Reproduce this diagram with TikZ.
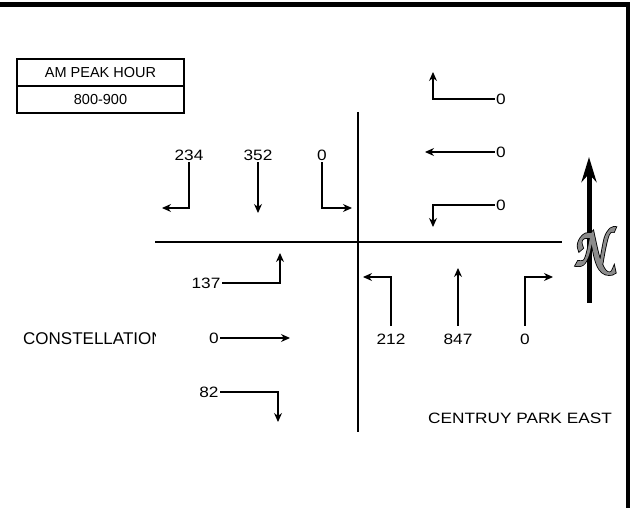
\documentclass[tikz,border=0pt]{standalone}
\usepackage{fontspec}
\setmainfont{Liberation Sans}
\newfontfamily\numfont[FakeStretch=1.15]{Liberation Sans}
\newfontfamily\northrimfont[FakeBold=5,FakeStretch=0.8]{texgyrechorus-mediumitalic.otf}
\newfontfamily\northfillfont[FakeBold=2,FakeStretch=0.8]{texgyrechorus-mediumitalic.otf}
\usetikzlibrary{arrows.meta,positioning}
\tikzset{
  street/.style={draw=black,line width=1.8pt},
  frame/.style={draw=black,line width=4.5pt},
  ar/.style={-{Stealth[length=9pt,width=8pt]},draw=black,line width=1.2pt},
  arup/.style={ar,shorten <=6pt},
  num/.style={font=\numfont\fontsize{15}{17}\selectfont,inner sep=1.5pt},
  lbl/.style={font=\fontsize{17}{19}\selectfont,inner sep=0pt},
  hdr/.style={draw=black,line width=1.5pt,minimum width=167pt,minimum height=27pt,inner sep=0pt,font=\fontsize{14.5}{16}\selectfont},
  northarrow/.style={-{Stealth[length=25pt,width=15pt]},draw=black,line width=5pt},
  nrimstyle/.style={inner sep=0pt,text=black,font=\northrimfont\fontsize{56}{56}\selectfont},
  nfillstyle/.style={inner sep=0pt,text=black!45,font=\northfillfont\fontsize{56}{56}\selectfont},
}

\begin{document}
\begin{tikzpicture}[x=1pt,y=-1pt]
  \useasboundingbox (0,0) rectangle (633,508);
  \draw[frame] (0,4.7) -- (630.25,4.7);
  \draw[frame] (628,2.45) -- (628,508);
  \node[hdr] (peak) at (100.5,72.5) {AM PEAK HOUR};
  \node[hdr] (hour) at (100.5,99.5) {800-900};
  \coordinate (sn) at (358,112); \coordinate (ss) at (358,432);
  \coordinate (sw) at (155,242); \coordinate (se) at (562,242);
  \draw[street] (sn) -- (ss); \draw[street] (sw) -- (se);
  \node[num] (n234) at (189,155) {234};
  \node[num] (n352) at (258,155) {352};
  \node[num] (n0sr) at (322,155) {0};
  \coordinate (e234) at (162,208); \coordinate (e352) at (258,213); \coordinate (e0sr) at (352,208);
  \draw[ar] (n234.south) |- (e234); \draw[ar] (n352.south) -- (e352); \draw[ar] (n0sr.south) |- (e0sr);
  \node[num] (n0wl) at (501,99) {0};
  \node[num] (n0wt) at (501,152) {0};
  \node[num] (n0wr) at (501,205) {0};
  \coordinate (e0wl) at (433,72); \coordinate (e0wt) at (425,152); \coordinate (e0wr) at (433,227);
  \draw[ar] (n0wl.west) -| (e0wl); \draw[ar] (n0wt.west) -- (e0wt); \draw[ar] (n0wr.west) -| (e0wr);
  \node[num] (n137) at (206,283) {137};
  \node[num] (n0et) at (214,338) {0};
  \node[num] (n82) at (209,392) {82};
  \coordinate (e137) at (280,253); \coordinate (e0et) at (290,338); \coordinate (e82) at (278,422);
  \draw[ar] (n137.east) -| (e137); \draw[ar] (n0et.east) -- (e0et); \draw[ar] (n82.east) -| (e82);
  \node[num] (n212) at (391,339) {212};
  \node[num] (n847) at (458,339) {847};
  \node[num] (n0nr) at (525,339) {0};
  \coordinate (e212) at (363,277); \coordinate (e847) at (458,268); \coordinate (e0nr) at (553,277);
  \draw[arup] (n212.north) |- (e212); \draw[arup] (n847.north) -- (e847); \draw[arup] (n0nr.north) |- (e0nr);
  \coordinate (nb) at (589,303); \coordinate (nt) at (589,157);
  \draw[northarrow] (nb) -- (nt);
  \node[nrimstyle] (nrim) at (590,251) {N};
  \node[nfillstyle] (nsym) at (nrim) {N};
  \begin{scope}
    \clip (0,320) rectangle (155,360);
    \node[lbl,anchor=west] (const) at (23,339) {CONSTELLATION};
  \end{scope}
  \node[num] (cpe) at (520,418) {CENTRUY PARK EAST};
\end{tikzpicture}
\end{document}
